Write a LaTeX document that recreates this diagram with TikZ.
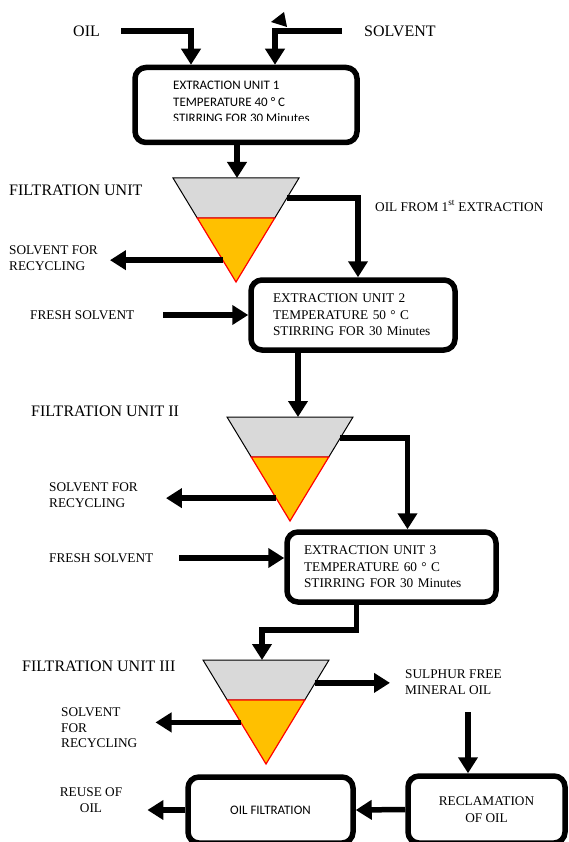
\documentclass[tikz,border=0pt]{standalone}
\usepackage{fontspec}
\setmainfont{Liberation Serif}
\newfontfamily\calib{Carlito}
\usetikzlibrary{arrows.meta,calc}
\definecolor{fgray}{HTML}{D9D9D9}
\definecolor{forange}{HTML}{FFC000}
\tikzset{
 unitbox/.style={draw,line width=5.5pt,rounded corners=11pt,fill=white,inner sep=0pt,
   font=\fontsize{13.3}{16.5}\selectfont},
 flow/.style={line width=5.5pt,-{Triangle[length=16pt,width=19pt]}},
 lbl/.style={inner sep=0pt,anchor=west,align=left,font=\fontsize{13.3}{15.5}\selectfont},
 biglbl/.style={inner sep=0pt,anchor=west,font=\fontsize{16}{19}\selectfont},
}
\begin{document}
\begin{tikzpicture}[x=1pt,y=-1pt]
\useasboundingbox (0,0) rectangle (568,842);
\pgfmathsetmacro{\fw}{63}
\pgfmathsetmacro{\fh}{104}
\pgfmathsetmacro{\fd}{0.385}
% funnels: name/x/top y/inlet shift/outlet pos/recycle pos
\foreach \fn/\fx/\fy/\fs/\fo/\fr in {fa/236/178/1/0.19/0.79,fb/290/417/8/0.2/0.78,fc/266/660/-4/0.22/0.6}{
\coordinate (\fn-tl) at (\fx-\fw,\fy);
\coordinate (\fn-tr) at (\fx+\fw,\fy);
\coordinate (\fn-tip) at (\fx,\fy+\fh);
\coordinate (\fn-in) at (\fx+\fs,\fy);
\coordinate (\fn-out) at ($(\fn-tr)!\fo!(\fn-tip)$);
\coordinate (\fn-rec) at ($(\fn-tl)!\fr!(\fn-tip)$);
\draw[fill=fgray,line width=1pt](\fn-tl)--(\fn-tr)--($(\fn-tr)!\fd!(\fn-tip)$)--($(\fn-tl)!\fd!(\fn-tip)$)--cycle;
\draw[fill=forange,draw=red,line width=1.2pt]($(\fn-tl)!\fd!(\fn-tip)$)--($(\fn-tr)!\fd!(\fn-tip)$)--(\fn-tip)--cycle;
}
% units
\node[unitbox,minimum width=222pt,minimum height=75pt](ext1) at (246,105){};
\begin{scope}
\clip (130,60) rectangle (360,121);
\node[anchor=north west,inner sep=0pt,align=left,font=\calib\fontsize{13}{16.5}\selectfont](ext1-txt) at (173,81)
 {EXTRACTION UNIT 1\\TEMPERATURE 40 ° C\\STIRRING FOR 30 Minutes};
\end{scope}
\node[unitbox,minimum width=204pt,minimum height=70pt,text width=160pt,align=left](ext2) at (353,315)
 {EXTRACTION UNIT 2\\TEMPERATURE 50 ° C\\STIRRING FOR 30 Minutes};
\node[unitbox,minimum width=209pt,minimum height=70pt,text width=175pt,align=left](ext3) at (391.5,567)
 {EXTRACTION UNIT 3\\TEMPERATURE 60 ° C\\STIRRING FOR 30 Minutes};
\node[unitbox,minimum width=165pt,minimum height=66pt,font=\calib\fontsize{13}{16}\selectfont](oilfilt) at (270.5,810){OIL FILTRATION};
\node[unitbox,minimum width=157pt,minimum height=67pt,align=center](reclam) at (486.5,809.5){RECLAMATION\\OF OIL};
% labels
\node[biglbl](oil) at (73,31){OIL};
\node[biglbl](solv) at (364,31){SOLVENT};
\node[biglbl](filta) at (9,190){FILTRATION UNIT};
\node[lbl](ofe) at (375,206){OIL FROM 1\textsuperscript{st} EXTRACTION};
\node[lbl](reca) at (9,258){SOLVENT FOR\\RECYCLING};
\node[lbl](fresha) at (30,315){FRESH SOLVENT};
\node[biglbl](filtb) at (31,411){FILTRATION UNIT II};
\node[lbl](recb) at (49,495){SOLVENT FOR\\RECYCLING};
\node[lbl](freshb) at (49,558){FRESH SOLVENT};
\node[biglbl](filtc) at (22,666){FILTRATION UNIT III};
\node[lbl](sulph) at (405,682){SULPHUR FREE\\MINERAL OIL};
\node[lbl](recc) at (61,728){SOLVENT\\FOR\\RECYCLING};
\node[lbl,anchor=center,align=center](reuse) at (91,800){REUSE OF\\OIL};
\coordinate (sulph-dn) at (468,712);
% flows
\draw[flow]([xshift=21pt]oil.east)-|([xshift=-55pt]ext1.north);
\draw[flow]([xshift=-22pt]solv.west)-|([xshift=29pt]ext1.north);
\fill (271,22)--(284,12)--(287,27)--cycle;
\draw[flow](ext1.south -| fa-in)--(fa-in);
\draw[flow](fa-out)-|([xshift=5pt]ext2.north);
\draw[flow](fa-rec)--($(fa-rec -| reca.east)+(12,0)$);
\draw[flow]([xshift=29pt]fresha.east)--(fresha -| ext2.west);
\draw[flow](ext2.south -| fb-in)--(fb-in);
\draw[flow](fb-out)-|([xshift=16pt]ext3.north);
\draw[flow](fb-rec)--($(fb-rec -| recb.east)+(28,0)$);
\draw[flow]([xshift=26pt]freshb.east)--(freshb -| ext3.west);
\draw[flow]([xshift=-35pt]ext3.south)--++(0,25)-|(fc-in);
\draw[flow](fc-out)--($(fc-out -| sulph.west)+(-15,0)$);
\draw[flow](fc-rec)--($(fc-rec -| recc.east)+(18,0)$);
\draw[flow](sulph-dn)--(sulph-dn |- reclam.north);
\draw[flow](reclam.west)--(oilfilt.east);
\draw[flow](oilfilt.west)--($(oilfilt.west -| reuse.east)+(25,0)$);
\end{tikzpicture}
\end{document}
